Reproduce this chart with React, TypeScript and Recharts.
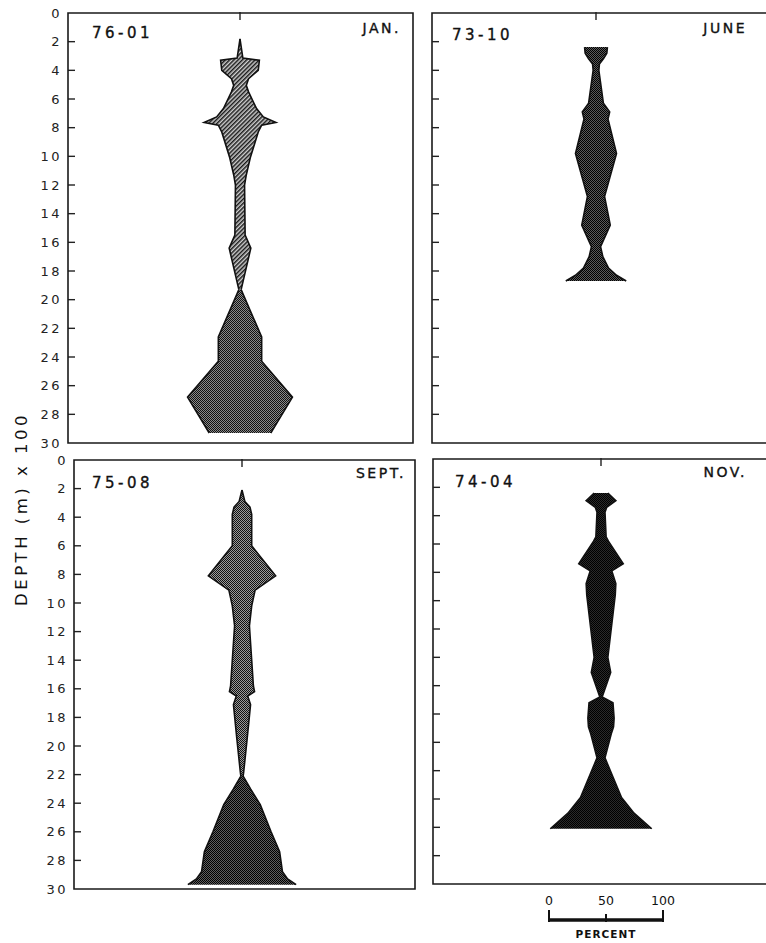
import React from 'react';
import { ComposedChart, LineChart, Area, Line, XAxis, YAxis, ReferenceArea } from 'recharts';

// ---------- data (depth in m x 100, percent) ----------
const DEPTH_TICKS = [0, 2, 4, 6, 8, 10, 12, 14, 16, 18, 20, 22, 24, 26, 28, 30];
const SCALE_TICKS = [0, 50, 100];

// 76-01 JAN.
const janDepth = [1.8, 3.15, 3.3, 4.0, 4.58, 5.05, 5.5, 6.67, 7.25, 7.64, 7.83, 8.3, 10.1, 11.3, 12.0, 15.5, 16.4, 19.3];
const janPct = [0, 5, 34, 32, 15, 11, 15, 29, 41, 63, 38, 32, 18, 11, 8, 9, 19, 2];
const janDeepDepth = [19.3, 22.6, 24.3, 26.8, 29.3];
const janDeepPct = [2, 38, 38, 92, 54];

// 73-10 JUNE
const juneDepth = [2.38, 2.8, 3.2, 3.55, 4.0, 6.3, 6.9, 7.4, 9.8, 12.8, 14.8, 16.3, 17.0, 17.8, 18.3, 18.7];
const junePct = [20, 19, 13, 6, 5, 13, 24, 21, 36, 15, 25, 8, 12, 22, 36, 53];

// 75-08 SEPT.
const septDepth = [2.1, 2.9, 3.3, 3.8, 6.0, 8.1, 9.1, 10.2, 11.6, 15.8, 16.2, 16.5, 17.1, 19.5, 21.8, 22.1];
const septPct = [0, 5, 14, 17, 17, 59, 23, 17, 13, 20, 22, 10, 15, 9, 3, 2];
const septDeepDepth = [22.1, 23.0, 24.1, 26.0, 27.4, 28.8, 29.3, 29.7];
const septDeepPct = [2, 15, 32, 51, 66, 71, 80, 95];

// 74-04 NOV.
const novDepth = [2.4, 2.94, 3.41, 3.76, 5.5, 5.8, 7.4, 7.9, 8.8, 9.6, 14.0, 15.06, 16.8, 17.2, 18.3, 18.9, 19.4, 21.1, 23.9, 25.0, 26.1];
const novPct = [12, 26, 10, 7, 9, 13, 39, 19, 26, 25, 12, 17, 2, 21, 23, 22, 18, 7, 36, 58, 89];

// ---------- layout ----------
const W = 800;
const H = 943;
const PX_PER_PCT = 1.14;
const FONT = '"DejaVu Sans", sans-serif';

type Plot = { left: number; right: number; top: number; bottom: number; center: number };

const kiteRows = (depths: number[], pcts: number[]) =>
  depths.map((d, i) => ({ d, r: [-pcts[i] / 2, pcts[i] / 2] }));

const depthTick = (showLabel: boolean) => (props: any) => {
  const { x, y, payload } = props;
  const v = payload.value;
  const edge = v === 0 || v === 30;
  return (
    <g>
      {!edge && <line x1={x} x2={x + 7} y1={y} y2={y} stroke="#222" strokeWidth={1.4} />}
      {showLabel && (
        <text x={x - 6} y={y} dy="0.36em" textAnchor="end" fontFamily={FONT} fontSize={13} letterSpacing={2.5} fill="#222">
          {v}
        </text>
      )}
    </g>
  );
};

const centerTick = (props: any) => (
  <line x1={props.x} x2={props.x} y1={props.y - 1} y2={props.y + 7} stroke="#222" strokeWidth={1.4} />
);

const scaleTick = (props: any) => {
  const { x, y, payload } = props;
  const mid = payload.value === 50;
  return (
    <g>
      <line x1={x} x2={x} y1={y + 2} y2={y - (mid ? 6 : 10)} stroke="#111" strokeWidth={2} />
      <text x={x} y={y - 15} textAnchor="middle" fontFamily={FONT} fontSize={12.5} fill="#111">
        {payload.value}
      </text>
    </g>
  );
};

type Label = { text: string; x: number; y: number; anchor: 'start' | 'end'; size: number; spacing: number };
type Series = { rows: any[]; fill: string };

function Panel(props: {
  plot: Plot;
  series: Series[];
  showLabels: boolean;
  labels: Label[];
  defs: React.ReactNode;
  extra?: React.ReactNode;
}) {
  const { plot, series, showLabels, labels, defs, extra } = props;
  const xMin = -(plot.center - plot.left) / PX_PER_PCT;
  const xMax = (plot.right - plot.center) / PX_PER_PCT;
  const margin = { top: plot.top - 1, left: plot.left - 1, right: W - plot.right, bottom: H - plot.bottom };
  return (
    <>
      {series.map((s, i) => (
        <div key={i} style={{ position: 'absolute', left: 0, top: 0 }}>
          <ComposedChart layout="vertical" width={W} height={H} data={s.rows} margin={margin}>
            {i === 0 && <defs>{defs}</defs>}
            <XAxis
              type="number"
              orientation="top"
              height={1}
              domain={[xMin, xMax]}
              allowDataOverflow
              ticks={[0]}
              interval={0}
              axisLine={false}
              tickLine={false}
              tickSize={0}
              tickMargin={0}
              tick={i === 0 ? centerTick : false}
            />
            <YAxis
              type="number"
              dataKey="d"
              domain={[0, 30]}
              allowDataOverflow
              ticks={DEPTH_TICKS}
              interval={0}
              width={1}
              axisLine={false}
              tickLine={false}
              tickSize={0}
              tickMargin={0}
              tick={i === 0 ? depthTick(showLabels) : false}
            />
            <Area
              dataKey="r"
              type="linear"
              stroke="#111"
              strokeWidth={1.6}
              fill={s.fill}
              fillOpacity={1}
              dot={false}
              activeDot={false}
              isAnimationActive={false}
            />
            {i === series.length - 1 && (
              <ReferenceArea
                x1={xMin}
                x2={xMax}
                y1={0}
                y2={30}
                fill="none"
                stroke="#1a1a1a"
                strokeWidth={1.6}
                ifOverflow="visible"
              />
            )}
            {i === series.length - 1 &&
              labels.map((l) => (
                <text
                  key={l.text}
                  x={l.x}
                  y={l.y}
                  textAnchor={l.anchor}
                  fontFamily={FONT}
                  fontSize={l.size}
                  letterSpacing={l.spacing}
                  fill="#111"
                  stroke="#111"
                  strokeWidth={0.35}
                >
                  {l.text}
                </text>
              ))}
            {i === series.length - 1 && extra}
          </ComposedChart>
        </div>
      ))}
    </>
  );
}

const checker = (id: string, a: string, b: string) => (
  <pattern id={id} patternUnits="userSpaceOnUse" width={2} height={2}>
    <rect width={2} height={2} fill={b} />
    <rect width={1} height={1} fill={a} />
    <rect x={1} y={1} width={1} height={1} fill={a} />
  </pattern>
);

export default function App() {
  const scaleRows = SCALE_TICKS.map((p) => ({ p, v: 1 }));

  return (
    <div style={{ position: 'absolute', left: 0, top: 0, width: 766, height: 943, overflow: 'hidden', background: '#fff' }}>
      <Panel
        plot={{ left: 68, right: 413, top: 13, bottom: 443, center: 240 }}
        series={[
          { rows: kiteRows(janDepth, janPct), fill: 'url(#hatchJan)' },
          { rows: kiteRows(janDeepDepth, janDeepPct), fill: 'url(#checkJan)' },
        ]}
        showLabels
        labels={[
          { text: '76-01', x: 92, y: 38, anchor: 'start', size: 15, spacing: 3.5 },
          { text: 'JAN.', x: 401, y: 33, anchor: 'end', size: 14, spacing: 2.5 },
        ]}
        defs={
          <>
            <pattern id="hatchJan" patternUnits="userSpaceOnUse" width={3} height={3} patternTransform="rotate(45)">
              <rect width={3} height={3} fill="#cfcfcf" />
              <rect width={1.5} height={3} fill="#1a1a1a" />
            </pattern>
            {checker('checkJan', '#111', '#8a8a8a')}
          </>
        }
      />
      <Panel
        plot={{ left: 432, right: 777, top: 13, bottom: 443, center: 596 }}
        series={[{ rows: kiteRows(juneDepth, junePct), fill: 'url(#checkJune)' }]}
        showLabels={false}
        labels={[
          { text: '73-10', x: 452, y: 40, anchor: 'start', size: 15, spacing: 3.5 },
          { text: 'JUNE', x: 747, y: 33, anchor: 'end', size: 14, spacing: 2.5 },
        ]}
        defs={checker('checkJune', '#000', '#5a5a5a')}
      />
      <Panel
        plot={{ left: 74, right: 415, top: 460, bottom: 889, center: 242 }}
        series={[
          { rows: kiteRows(septDepth, septPct), fill: 'url(#checkSept)' },
          { rows: kiteRows(septDeepDepth, septDeepPct), fill: 'url(#checkSeptDeep)' },
        ]}
        showLabels
        labels={[
          { text: '75-08', x: 92, y: 488, anchor: 'start', size: 15, spacing: 3.5 },
          { text: 'SEPT.', x: 406, y: 478, anchor: 'end', size: 14, spacing: 2.5 },
        ]}
        defs={
          <>
            {checker('checkSept', '#111', '#9a9a9a')}
            {checker('checkSeptDeep', '#000', '#5e5e5e')}
          </>
        }
        extra={
          <text
            x={21}
            y={509}
            transform="rotate(-90 21 509)"
            textAnchor="middle"
            dy="0.35em"
            fontFamily={FONT}
            fontSize={16.5}
            letterSpacing={3.5}
            fill="#111"
          >
            DEPTH (m) x 100
          </text>
        }
      />
      <Panel
        plot={{ left: 433, right: 777, top: 459, bottom: 884, center: 601 }}
        series={[{ rows: kiteRows(novDepth, novPct), fill: 'url(#checkNov)' }]}
        showLabels={false}
        labels={[
          { text: '74-04', x: 455, y: 487, anchor: 'start', size: 15, spacing: 3.5 },
          { text: 'NOV.', x: 747, y: 477, anchor: 'end', size: 14, spacing: 2.5 },
        ]}
        defs={checker('checkNov', '#000', '#2a2a2a')}
      />
      <div style={{ position: 'absolute', left: 0, top: 0 }}>
        <LineChart width={W} height={H} data={scaleRows} margin={{ top: 919, left: 549, right: W - 663, bottom: H - 940 }}>
          <XAxis
            type="number"
            dataKey="p"
            domain={[0, 100]}
            ticks={SCALE_TICKS}
            interval={0}
            orientation="top"
            height={1}
            tickSize={0}
            tickMargin={0}
            axisLine={{ stroke: '#111', strokeWidth: 3.5 }}
            tickLine={false}
            tick={scaleTick}
          />
          <YAxis hide domain={[0, 1]} />
          <Line dataKey="v" stroke="none" dot={false} activeDot={false} isAnimationActive={false} />
          <text x={606} y={938} textAnchor="middle" fontFamily={FONT} fontSize={10.5} fontWeight="bold" letterSpacing={1} fill="#111">
            PERCENT
          </text>
        </LineChart>
      </div>
    </div>
  );
}
